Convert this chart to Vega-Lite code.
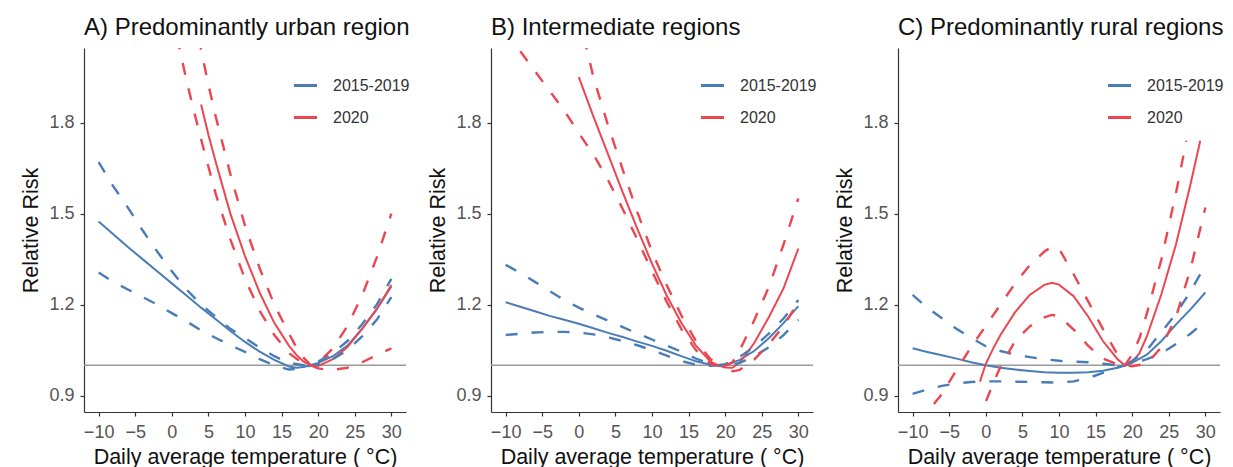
{
  "$schema": "https://vega.github.io/schema/vega-lite/v6.json",
  "padding": {"left": 20, "top": 16, "right": 0, "bottom": 0},
  "background": "white",
  "config": {
    "font": "Liberation Sans",
    "view": {"stroke": null},
    "axis": {"grid": false, "domainColor": "#333333", "domainWidth": 1.2, "tickColor": "#333333", "tickWidth": 1.2, "tickSize": 4, "labelFontSize": 18, "labelColor": "#555555", "titleFontSize": 21.5, "titleFontWeight": "normal", "titleColor": "#111111"},
    "title": {"anchor": "start", "frame": "group", "fontSize": 24, "fontWeight": "normal", "color": "#111111", "baseline": "alphabetic", "offset": 8},
    "legend": {"orient": "none", "legendX": 208, "legendY": 24, "symbolType": "stroke", "symbolSize": 530, "symbolStrokeWidth": 3, "labelFontSize": 16, "labelColor": "#333333", "labelOffset": 14, "rowPadding": 10, "padding": 0, "title": null}
  },
  "datasets": {
    "curves": [
      {"p":"A","g":"2015-2019","k":"fit","t":-10,"rr":1.474},{"p":"A","g":"2015-2019","k":"fit","t":-8,"rr":1.432},{"p":"A","g":"2015-2019","k":"fit","t":-6,"rr":1.39},{"p":"A","g":"2015-2019","k":"fit","t":-4,"rr":1.35},{"p":"A","g":"2015-2019","k":"fit","t":-2,"rr":1.31},{"p":"A","g":"2015-2019","k":"fit","t":0,"rr":1.27},{"p":"A","g":"2015-2019","k":"fit","t":2,"rr":1.23},{"p":"A","g":"2015-2019","k":"fit","t":4,"rr":1.19},{"p":"A","g":"2015-2019","k":"fit","t":6,"rr":1.152},{"p":"A","g":"2015-2019","k":"fit","t":8,"rr":1.113},{"p":"A","g":"2015-2019","k":"fit","t":10,"rr":1.077},{"p":"A","g":"2015-2019","k":"fit","t":12,"rr":1.045},{"p":"A","g":"2015-2019","k":"fit","t":14,"rr":1.018},{"p":"A","g":"2015-2019","k":"fit","t":16,"rr":0.996},{"p":"A","g":"2015-2019","k":"fit","t":17,"rr":0.992},{"p":"A","g":"2015-2019","k":"fit","t":18,"rr":0.994},{"p":"A","g":"2015-2019","k":"fit","t":19,"rr":1.0},{"p":"A","g":"2015-2019","k":"fit","t":20,"rr":1.008},{"p":"A","g":"2015-2019","k":"fit","t":22,"rr":1.03},{"p":"A","g":"2015-2019","k":"fit","t":24,"rr":1.065},{"p":"A","g":"2015-2019","k":"fit","t":26,"rr":1.12},{"p":"A","g":"2015-2019","k":"fit","t":28,"rr":1.185},{"p":"A","g":"2015-2019","k":"fit","t":30,"rr":1.26},
      {"p":"A","g":"2015-2019","k":"hi","t":-10,"rr":1.67},{"p":"A","g":"2015-2019","k":"hi","t":-8,"rr":1.59},{"p":"A","g":"2015-2019","k":"hi","t":-6,"rr":1.52},{"p":"A","g":"2015-2019","k":"hi","t":-4,"rr":1.445},{"p":"A","g":"2015-2019","k":"hi","t":-2,"rr":1.375},{"p":"A","g":"2015-2019","k":"hi","t":0,"rr":1.31},{"p":"A","g":"2015-2019","k":"hi","t":2,"rr":1.25},{"p":"A","g":"2015-2019","k":"hi","t":4,"rr":1.2},{"p":"A","g":"2015-2019","k":"hi","t":6,"rr":1.16},{"p":"A","g":"2015-2019","k":"hi","t":8,"rr":1.12},{"p":"A","g":"2015-2019","k":"hi","t":10,"rr":1.09},{"p":"A","g":"2015-2019","k":"hi","t":12,"rr":1.058},{"p":"A","g":"2015-2019","k":"hi","t":14,"rr":1.03},{"p":"A","g":"2015-2019","k":"hi","t":16,"rr":1.008},{"p":"A","g":"2015-2019","k":"hi","t":18,"rr":1.0},{"p":"A","g":"2015-2019","k":"hi","t":19,"rr":1.0},{"p":"A","g":"2015-2019","k":"hi","t":20,"rr":1.012},{"p":"A","g":"2015-2019","k":"hi","t":22,"rr":1.04},{"p":"A","g":"2015-2019","k":"hi","t":24,"rr":1.08},{"p":"A","g":"2015-2019","k":"hi","t":26,"rr":1.135},{"p":"A","g":"2015-2019","k":"hi","t":28,"rr":1.2},{"p":"A","g":"2015-2019","k":"hi","t":30,"rr":1.285},
      {"p":"A","g":"2015-2019","k":"lo","t":-10,"rr":1.306},{"p":"A","g":"2015-2019","k":"lo","t":-8,"rr":1.275},{"p":"A","g":"2015-2019","k":"lo","t":-6,"rr":1.25},{"p":"A","g":"2015-2019","k":"lo","t":-4,"rr":1.225},{"p":"A","g":"2015-2019","k":"lo","t":-2,"rr":1.2},{"p":"A","g":"2015-2019","k":"lo","t":0,"rr":1.172},{"p":"A","g":"2015-2019","k":"lo","t":2,"rr":1.145},{"p":"A","g":"2015-2019","k":"lo","t":4,"rr":1.115},{"p":"A","g":"2015-2019","k":"lo","t":6,"rr":1.09},{"p":"A","g":"2015-2019","k":"lo","t":8,"rr":1.066},{"p":"A","g":"2015-2019","k":"lo","t":10,"rr":1.044},{"p":"A","g":"2015-2019","k":"lo","t":12,"rr":1.02},{"p":"A","g":"2015-2019","k":"lo","t":14,"rr":1.0},{"p":"A","g":"2015-2019","k":"lo","t":16,"rr":0.986},{"p":"A","g":"2015-2019","k":"lo","t":18,"rr":0.99},{"p":"A","g":"2015-2019","k":"lo","t":19,"rr":1.0},{"p":"A","g":"2015-2019","k":"lo","t":20,"rr":1.003},{"p":"A","g":"2015-2019","k":"lo","t":22,"rr":1.02},{"p":"A","g":"2015-2019","k":"lo","t":24,"rr":1.05},{"p":"A","g":"2015-2019","k":"lo","t":26,"rr":1.095},{"p":"A","g":"2015-2019","k":"lo","t":28,"rr":1.15},{"p":"A","g":"2015-2019","k":"lo","t":30,"rr":1.225},
      {"p":"A","g":"2020","k":"fit","t":4,"rr":1.86},{"p":"A","g":"2020","k":"fit","t":5,"rr":1.76},{"p":"A","g":"2020","k":"fit","t":6,"rr":1.67},{"p":"A","g":"2020","k":"fit","t":8,"rr":1.5},{"p":"A","g":"2020","k":"fit","t":10,"rr":1.36},{"p":"A","g":"2020","k":"fit","t":12,"rr":1.24},{"p":"A","g":"2020","k":"fit","t":14,"rr":1.14},{"p":"A","g":"2020","k":"fit","t":16,"rr":1.065},{"p":"A","g":"2020","k":"fit","t":17,"rr":1.035},{"p":"A","g":"2020","k":"fit","t":18,"rr":1.012},{"p":"A","g":"2020","k":"fit","t":19,"rr":1.0},{"p":"A","g":"2020","k":"fit","t":20,"rr":0.998},{"p":"A","g":"2020","k":"fit","t":22,"rr":1.02},{"p":"A","g":"2020","k":"fit","t":24,"rr":1.06},{"p":"A","g":"2020","k":"fit","t":26,"rr":1.12},{"p":"A","g":"2020","k":"fit","t":28,"rr":1.185},{"p":"A","g":"2020","k":"fit","t":30,"rr":1.265},
      {"p":"A","g":"2020","k":"hi","t":3.7,"rr":2.08},{"p":"A","g":"2020","k":"hi","t":4,"rr":2.04},{"p":"A","g":"2020","k":"hi","t":5,"rr":1.925},{"p":"A","g":"2020","k":"hi","t":6,"rr":1.82},{"p":"A","g":"2020","k":"hi","t":8,"rr":1.63},{"p":"A","g":"2020","k":"hi","t":10,"rr":1.46},{"p":"A","g":"2020","k":"hi","t":12,"rr":1.32},{"p":"A","g":"2020","k":"hi","t":14,"rr":1.2},{"p":"A","g":"2020","k":"hi","t":16,"rr":1.105},{"p":"A","g":"2020","k":"hi","t":17,"rr":1.06},{"p":"A","g":"2020","k":"hi","t":18,"rr":1.025},{"p":"A","g":"2020","k":"hi","t":19,"rr":1.0},{"p":"A","g":"2020","k":"hi","t":20,"rr":1.008},{"p":"A","g":"2020","k":"hi","t":22,"rr":1.055},{"p":"A","g":"2020","k":"hi","t":24,"rr":1.13},{"p":"A","g":"2020","k":"hi","t":26,"rr":1.23},{"p":"A","g":"2020","k":"hi","t":28,"rr":1.355},{"p":"A","g":"2020","k":"hi","t":30,"rr":1.5},
      {"p":"A","g":"2020","k":"lo","t":0.7,"rr":2.08},{"p":"A","g":"2020","k":"lo","t":1,"rr":2.05},{"p":"A","g":"2020","k":"lo","t":2,"rr":1.94},{"p":"A","g":"2020","k":"lo","t":3,"rr":1.84},{"p":"A","g":"2020","k":"lo","t":4,"rr":1.745},{"p":"A","g":"2020","k":"lo","t":6,"rr":1.565},{"p":"A","g":"2020","k":"lo","t":8,"rr":1.415},{"p":"A","g":"2020","k":"lo","t":10,"rr":1.285},{"p":"A","g":"2020","k":"lo","t":12,"rr":1.18},{"p":"A","g":"2020","k":"lo","t":14,"rr":1.1},{"p":"A","g":"2020","k":"lo","t":16,"rr":1.04},{"p":"A","g":"2020","k":"lo","t":18,"rr":1.005},{"p":"A","g":"2020","k":"lo","t":19,"rr":1.0},{"p":"A","g":"2020","k":"lo","t":20,"rr":0.99},{"p":"A","g":"2020","k":"lo","t":21,"rr":0.986},{"p":"A","g":"2020","k":"lo","t":22,"rr":0.985},{"p":"A","g":"2020","k":"lo","t":24,"rr":0.992},{"p":"A","g":"2020","k":"lo","t":26,"rr":1.01},{"p":"A","g":"2020","k":"lo","t":28,"rr":1.033},{"p":"A","g":"2020","k":"lo","t":30,"rr":1.056},

      {"p":"B","g":"2015-2019","k":"fit","t":-10,"rr":1.208},{"p":"B","g":"2015-2019","k":"fit","t":-8,"rr":1.193},{"p":"B","g":"2015-2019","k":"fit","t":-6,"rr":1.178},{"p":"B","g":"2015-2019","k":"fit","t":-4,"rr":1.163},{"p":"B","g":"2015-2019","k":"fit","t":-2,"rr":1.15},{"p":"B","g":"2015-2019","k":"fit","t":0,"rr":1.137},{"p":"B","g":"2015-2019","k":"fit","t":2,"rr":1.122},{"p":"B","g":"2015-2019","k":"fit","t":4,"rr":1.107},{"p":"B","g":"2015-2019","k":"fit","t":6,"rr":1.093},{"p":"B","g":"2015-2019","k":"fit","t":8,"rr":1.078},{"p":"B","g":"2015-2019","k":"fit","t":10,"rr":1.064},{"p":"B","g":"2015-2019","k":"fit","t":12,"rr":1.048},{"p":"B","g":"2015-2019","k":"fit","t":14,"rr":1.03},{"p":"B","g":"2015-2019","k":"fit","t":16,"rr":1.013},{"p":"B","g":"2015-2019","k":"fit","t":18,"rr":1.002},{"p":"B","g":"2015-2019","k":"fit","t":19,"rr":1.0},{"p":"B","g":"2015-2019","k":"fit","t":20,"rr":1.0},{"p":"B","g":"2015-2019","k":"fit","t":22,"rr":1.018},{"p":"B","g":"2015-2019","k":"fit","t":24,"rr":1.048},{"p":"B","g":"2015-2019","k":"fit","t":26,"rr":1.09},{"p":"B","g":"2015-2019","k":"fit","t":28,"rr":1.14},{"p":"B","g":"2015-2019","k":"fit","t":30,"rr":1.195},
      {"p":"B","g":"2015-2019","k":"hi","t":-10,"rr":1.331},{"p":"B","g":"2015-2019","k":"hi","t":-8,"rr":1.305},{"p":"B","g":"2015-2019","k":"hi","t":-6,"rr":1.275},{"p":"B","g":"2015-2019","k":"hi","t":-4,"rr":1.245},{"p":"B","g":"2015-2019","k":"hi","t":-2,"rr":1.215},{"p":"B","g":"2015-2019","k":"hi","t":0,"rr":1.19},{"p":"B","g":"2015-2019","k":"hi","t":2,"rr":1.168},{"p":"B","g":"2015-2019","k":"hi","t":4,"rr":1.147},{"p":"B","g":"2015-2019","k":"hi","t":6,"rr":1.126},{"p":"B","g":"2015-2019","k":"hi","t":8,"rr":1.105},{"p":"B","g":"2015-2019","k":"hi","t":10,"rr":1.085},{"p":"B","g":"2015-2019","k":"hi","t":12,"rr":1.065},{"p":"B","g":"2015-2019","k":"hi","t":14,"rr":1.045},{"p":"B","g":"2015-2019","k":"hi","t":16,"rr":1.022},{"p":"B","g":"2015-2019","k":"hi","t":18,"rr":1.005},{"p":"B","g":"2015-2019","k":"hi","t":19,"rr":1.0},{"p":"B","g":"2015-2019","k":"hi","t":20,"rr":1.004},{"p":"B","g":"2015-2019","k":"hi","t":22,"rr":1.028},{"p":"B","g":"2015-2019","k":"hi","t":24,"rr":1.062},{"p":"B","g":"2015-2019","k":"hi","t":26,"rr":1.105},{"p":"B","g":"2015-2019","k":"hi","t":28,"rr":1.155},{"p":"B","g":"2015-2019","k":"hi","t":30,"rr":1.215},
      {"p":"B","g":"2015-2019","k":"lo","t":-10,"rr":1.1},{"p":"B","g":"2015-2019","k":"lo","t":-8,"rr":1.104},{"p":"B","g":"2015-2019","k":"lo","t":-6,"rr":1.108},{"p":"B","g":"2015-2019","k":"lo","t":-4,"rr":1.11},{"p":"B","g":"2015-2019","k":"lo","t":-2,"rr":1.11},{"p":"B","g":"2015-2019","k":"lo","t":0,"rr":1.108},{"p":"B","g":"2015-2019","k":"lo","t":2,"rr":1.102},{"p":"B","g":"2015-2019","k":"lo","t":4,"rr":1.092},{"p":"B","g":"2015-2019","k":"lo","t":6,"rr":1.08},{"p":"B","g":"2015-2019","k":"lo","t":8,"rr":1.066},{"p":"B","g":"2015-2019","k":"lo","t":10,"rr":1.05},{"p":"B","g":"2015-2019","k":"lo","t":12,"rr":1.032},{"p":"B","g":"2015-2019","k":"lo","t":14,"rr":1.014},{"p":"B","g":"2015-2019","k":"lo","t":16,"rr":1.002},{"p":"B","g":"2015-2019","k":"lo","t":18,"rr":0.998},{"p":"B","g":"2015-2019","k":"lo","t":19,"rr":1.0},{"p":"B","g":"2015-2019","k":"lo","t":20,"rr":0.998},{"p":"B","g":"2015-2019","k":"lo","t":22,"rr":1.008},{"p":"B","g":"2015-2019","k":"lo","t":24,"rr":1.03},{"p":"B","g":"2015-2019","k":"lo","t":26,"rr":1.06},{"p":"B","g":"2015-2019","k":"lo","t":28,"rr":1.1},{"p":"B","g":"2015-2019","k":"lo","t":30,"rr":1.15},
      {"p":"B","g":"2020","k":"fit","t":0,"rr":1.95},{"p":"B","g":"2020","k":"fit","t":2,"rr":1.82},{"p":"B","g":"2020","k":"fit","t":4,"rr":1.695},{"p":"B","g":"2020","k":"fit","t":6,"rr":1.57},{"p":"B","g":"2020","k":"fit","t":8,"rr":1.45},{"p":"B","g":"2020","k":"fit","t":10,"rr":1.335},{"p":"B","g":"2020","k":"fit","t":12,"rr":1.23},{"p":"B","g":"2020","k":"fit","t":14,"rr":1.14},{"p":"B","g":"2020","k":"fit","t":16,"rr":1.065},{"p":"B","g":"2020","k":"fit","t":18,"rr":1.012},{"p":"B","g":"2020","k":"fit","t":19,"rr":1.0},{"p":"B","g":"2020","k":"fit","t":20,"rr":0.993},{"p":"B","g":"2020","k":"fit","t":21,"rr":0.992},{"p":"B","g":"2020","k":"fit","t":22,"rr":1.01},{"p":"B","g":"2020","k":"fit","t":23,"rr":1.04},{"p":"B","g":"2020","k":"fit","t":24,"rr":1.075},{"p":"B","g":"2020","k":"fit","t":26,"rr":1.16},{"p":"B","g":"2020","k":"fit","t":28,"rr":1.255},{"p":"B","g":"2020","k":"fit","t":30,"rr":1.385},
      {"p":"B","g":"2020","k":"hi","t":0.7,"rr":2.08},{"p":"B","g":"2020","k":"hi","t":1,"rr":2.05},{"p":"B","g":"2020","k":"hi","t":2,"rr":1.95},{"p":"B","g":"2020","k":"hi","t":4,"rr":1.79},{"p":"B","g":"2020","k":"hi","t":6,"rr":1.645},{"p":"B","g":"2020","k":"hi","t":8,"rr":1.505},{"p":"B","g":"2020","k":"hi","t":10,"rr":1.375},{"p":"B","g":"2020","k":"hi","t":12,"rr":1.265},{"p":"B","g":"2020","k":"hi","t":14,"rr":1.165},{"p":"B","g":"2020","k":"hi","t":16,"rr":1.08},{"p":"B","g":"2020","k":"hi","t":18,"rr":1.02},{"p":"B","g":"2020","k":"hi","t":19,"rr":1.0},{"p":"B","g":"2020","k":"hi","t":20,"rr":0.998},{"p":"B","g":"2020","k":"hi","t":21,"rr":1.01},{"p":"B","g":"2020","k":"hi","t":22,"rr":1.05},{"p":"B","g":"2020","k":"hi","t":24,"rr":1.15},{"p":"B","g":"2020","k":"hi","t":26,"rr":1.26},{"p":"B","g":"2020","k":"hi","t":28,"rr":1.4},{"p":"B","g":"2020","k":"hi","t":30,"rr":1.55},
      {"p":"B","g":"2020","k":"lo","t":-8,"rr":2.035},{"p":"B","g":"2020","k":"lo","t":-6,"rr":1.97},{"p":"B","g":"2020","k":"lo","t":-4,"rr":1.905},{"p":"B","g":"2020","k":"lo","t":-2,"rr":1.84},{"p":"B","g":"2020","k":"lo","t":0,"rr":1.765},{"p":"B","g":"2020","k":"lo","t":2,"rr":1.695},{"p":"B","g":"2020","k":"lo","t":4,"rr":1.61},{"p":"B","g":"2020","k":"lo","t":6,"rr":1.515},{"p":"B","g":"2020","k":"lo","t":8,"rr":1.415},{"p":"B","g":"2020","k":"lo","t":10,"rr":1.31},{"p":"B","g":"2020","k":"lo","t":12,"rr":1.21},{"p":"B","g":"2020","k":"lo","t":14,"rr":1.12},{"p":"B","g":"2020","k":"lo","t":16,"rr":1.05},{"p":"B","g":"2020","k":"lo","t":18,"rr":1.005},{"p":"B","g":"2020","k":"lo","t":19,"rr":1.0},{"p":"B","g":"2020","k":"lo","t":20,"rr":0.985},{"p":"B","g":"2020","k":"lo","t":21,"rr":0.98},{"p":"B","g":"2020","k":"lo","t":22,"rr":0.985},{"p":"B","g":"2020","k":"lo","t":24,"rr":1.02},{"p":"B","g":"2020","k":"lo","t":26,"rr":1.07},{"p":"B","g":"2020","k":"lo","t":28,"rr":1.13},{"p":"B","g":"2020","k":"lo","t":30,"rr":1.21},

      {"p":"C","g":"2015-2019","k":"fit","t":-10,"rr":1.056},{"p":"C","g":"2015-2019","k":"fit","t":-8,"rr":1.044},{"p":"C","g":"2015-2019","k":"fit","t":-6,"rr":1.033},{"p":"C","g":"2015-2019","k":"fit","t":-4,"rr":1.022},{"p":"C","g":"2015-2019","k":"fit","t":-2,"rr":1.01},{"p":"C","g":"2015-2019","k":"fit","t":0,"rr":1.0},{"p":"C","g":"2015-2019","k":"fit","t":2,"rr":0.992},{"p":"C","g":"2015-2019","k":"fit","t":4,"rr":0.986},{"p":"C","g":"2015-2019","k":"fit","t":6,"rr":0.981},{"p":"C","g":"2015-2019","k":"fit","t":8,"rr":0.977},{"p":"C","g":"2015-2019","k":"fit","t":10,"rr":0.975},{"p":"C","g":"2015-2019","k":"fit","t":12,"rr":0.975},{"p":"C","g":"2015-2019","k":"fit","t":14,"rr":0.977},{"p":"C","g":"2015-2019","k":"fit","t":16,"rr":0.982},{"p":"C","g":"2015-2019","k":"fit","t":18,"rr":0.992},{"p":"C","g":"2015-2019","k":"fit","t":19,"rr":1.0},{"p":"C","g":"2015-2019","k":"fit","t":20,"rr":1.008},{"p":"C","g":"2015-2019","k":"fit","t":22,"rr":1.035},{"p":"C","g":"2015-2019","k":"fit","t":24,"rr":1.08},{"p":"C","g":"2015-2019","k":"fit","t":26,"rr":1.135},{"p":"C","g":"2015-2019","k":"fit","t":28,"rr":1.185},{"p":"C","g":"2015-2019","k":"fit","t":30,"rr":1.24},
      {"p":"C","g":"2015-2019","k":"hi","t":-10,"rr":1.232},{"p":"C","g":"2015-2019","k":"hi","t":-8,"rr":1.19},{"p":"C","g":"2015-2019","k":"hi","t":-6,"rr":1.155},{"p":"C","g":"2015-2019","k":"hi","t":-4,"rr":1.12},{"p":"C","g":"2015-2019","k":"hi","t":-2,"rr":1.09},{"p":"C","g":"2015-2019","k":"hi","t":0,"rr":1.063},{"p":"C","g":"2015-2019","k":"hi","t":2,"rr":1.047},{"p":"C","g":"2015-2019","k":"hi","t":4,"rr":1.035},{"p":"C","g":"2015-2019","k":"hi","t":6,"rr":1.027},{"p":"C","g":"2015-2019","k":"hi","t":8,"rr":1.02},{"p":"C","g":"2015-2019","k":"hi","t":10,"rr":1.015},{"p":"C","g":"2015-2019","k":"hi","t":12,"rr":1.012},{"p":"C","g":"2015-2019","k":"hi","t":14,"rr":1.01},{"p":"C","g":"2015-2019","k":"hi","t":16,"rr":1.005},{"p":"C","g":"2015-2019","k":"hi","t":18,"rr":1.0},{"p":"C","g":"2015-2019","k":"hi","t":19,"rr":1.0},{"p":"C","g":"2015-2019","k":"hi","t":20,"rr":1.015},{"p":"C","g":"2015-2019","k":"hi","t":22,"rr":1.05},{"p":"C","g":"2015-2019","k":"hi","t":24,"rr":1.11},{"p":"C","g":"2015-2019","k":"hi","t":26,"rr":1.17},{"p":"C","g":"2015-2019","k":"hi","t":28,"rr":1.245},{"p":"C","g":"2015-2019","k":"hi","t":30,"rr":1.33},
      {"p":"C","g":"2015-2019","k":"lo","t":-10,"rr":0.906},{"p":"C","g":"2015-2019","k":"lo","t":-8,"rr":0.92},{"p":"C","g":"2015-2019","k":"lo","t":-6,"rr":0.932},{"p":"C","g":"2015-2019","k":"lo","t":-4,"rr":0.94},{"p":"C","g":"2015-2019","k":"lo","t":-2,"rr":0.945},{"p":"C","g":"2015-2019","k":"lo","t":0,"rr":0.947},{"p":"C","g":"2015-2019","k":"lo","t":2,"rr":0.947},{"p":"C","g":"2015-2019","k":"lo","t":4,"rr":0.946},{"p":"C","g":"2015-2019","k":"lo","t":6,"rr":0.945},{"p":"C","g":"2015-2019","k":"lo","t":8,"rr":0.944},{"p":"C","g":"2015-2019","k":"lo","t":10,"rr":0.943},{"p":"C","g":"2015-2019","k":"lo","t":12,"rr":0.947},{"p":"C","g":"2015-2019","k":"lo","t":14,"rr":0.958},{"p":"C","g":"2015-2019","k":"lo","t":16,"rr":0.975},{"p":"C","g":"2015-2019","k":"lo","t":18,"rr":0.993},{"p":"C","g":"2015-2019","k":"lo","t":19,"rr":1.0},{"p":"C","g":"2015-2019","k":"lo","t":20,"rr":1.005},{"p":"C","g":"2015-2019","k":"lo","t":22,"rr":1.02},{"p":"C","g":"2015-2019","k":"lo","t":24,"rr":1.04},{"p":"C","g":"2015-2019","k":"lo","t":26,"rr":1.07},{"p":"C","g":"2015-2019","k":"lo","t":28,"rr":1.105},{"p":"C","g":"2015-2019","k":"lo","t":30,"rr":1.145},
      {"p":"C","g":"2020","k":"fit","t":-0.8,"rr":0.946},{"p":"C","g":"2020","k":"fit","t":0,"rr":1.005},{"p":"C","g":"2020","k":"fit","t":1,"rr":1.055},{"p":"C","g":"2020","k":"fit","t":2,"rr":1.1},{"p":"C","g":"2020","k":"fit","t":4,"rr":1.175},{"p":"C","g":"2020","k":"fit","t":6,"rr":1.232},{"p":"C","g":"2020","k":"fit","t":8,"rr":1.265},{"p":"C","g":"2020","k":"fit","t":9,"rr":1.272},{"p":"C","g":"2020","k":"fit","t":10,"rr":1.266},{"p":"C","g":"2020","k":"fit","t":12,"rr":1.228},{"p":"C","g":"2020","k":"fit","t":14,"rr":1.16},{"p":"C","g":"2020","k":"fit","t":16,"rr":1.08},{"p":"C","g":"2020","k":"fit","t":18,"rr":1.02},{"p":"C","g":"2020","k":"fit","t":19,"rr":1.0},{"p":"C","g":"2020","k":"fit","t":20,"rr":1.01},{"p":"C","g":"2020","k":"fit","t":21,"rr":1.04},{"p":"C","g":"2020","k":"fit","t":22,"rr":1.095},{"p":"C","g":"2020","k":"fit","t":24,"rr":1.235},{"p":"C","g":"2020","k":"fit","t":26,"rr":1.4},{"p":"C","g":"2020","k":"fit","t":28,"rr":1.6},{"p":"C","g":"2020","k":"fit","t":29.3,"rr":1.74},
      {"p":"C","g":"2020","k":"hi","t":-9,"rr":0.8},{"p":"C","g":"2020","k":"hi","t":-8,"rr":0.845},{"p":"C","g":"2020","k":"hi","t":-6,"rr":0.905},{"p":"C","g":"2020","k":"hi","t":-4,"rr":0.985},{"p":"C","g":"2020","k":"hi","t":-2,"rr":1.06},{"p":"C","g":"2020","k":"hi","t":0,"rr":1.13},{"p":"C","g":"2020","k":"hi","t":2,"rr":1.2},{"p":"C","g":"2020","k":"hi","t":4,"rr":1.27},{"p":"C","g":"2020","k":"hi","t":6,"rr":1.33},{"p":"C","g":"2020","k":"hi","t":8,"rr":1.375},{"p":"C","g":"2020","k":"hi","t":9,"rr":1.39},{"p":"C","g":"2020","k":"hi","t":10,"rr":1.385},{"p":"C","g":"2020","k":"hi","t":12,"rr":1.3},{"p":"C","g":"2020","k":"hi","t":14,"rr":1.21},{"p":"C","g":"2020","k":"hi","t":16,"rr":1.12},{"p":"C","g":"2020","k":"hi","t":18,"rr":1.035},{"p":"C","g":"2020","k":"hi","t":19,"rr":1.0},{"p":"C","g":"2020","k":"hi","t":20,"rr":1.035},{"p":"C","g":"2020","k":"hi","t":21,"rr":1.09},{"p":"C","g":"2020","k":"hi","t":22,"rr":1.17},{"p":"C","g":"2020","k":"hi","t":24,"rr":1.35},{"p":"C","g":"2020","k":"hi","t":26,"rr":1.57},{"p":"C","g":"2020","k":"hi","t":27.4,"rr":1.74},
      {"p":"C","g":"2020","k":"lo","t":-1,"rr":0.8},{"p":"C","g":"2020","k":"lo","t":-0.4,"rr":0.845},{"p":"C","g":"2020","k":"lo","t":0,"rr":0.88},{"p":"C","g":"2020","k":"lo","t":1,"rr":0.94},{"p":"C","g":"2020","k":"lo","t":2,"rr":0.995},{"p":"C","g":"2020","k":"lo","t":4,"rr":1.08},{"p":"C","g":"2020","k":"lo","t":6,"rr":1.128},{"p":"C","g":"2020","k":"lo","t":8,"rr":1.158},{"p":"C","g":"2020","k":"lo","t":9,"rr":1.166},{"p":"C","g":"2020","k":"lo","t":10,"rr":1.162},{"p":"C","g":"2020","k":"lo","t":12,"rr":1.118},{"p":"C","g":"2020","k":"lo","t":14,"rr":1.064},{"p":"C","g":"2020","k":"lo","t":16,"rr":1.022},{"p":"C","g":"2020","k":"lo","t":18,"rr":1.003},{"p":"C","g":"2020","k":"lo","t":19,"rr":1.0},{"p":"C","g":"2020","k":"lo","t":20,"rr":0.997},{"p":"C","g":"2020","k":"lo","t":22,"rr":1.005},{"p":"C","g":"2020","k":"lo","t":24,"rr":1.06},{"p":"C","g":"2020","k":"lo","t":26,"rr":1.16},{"p":"C","g":"2020","k":"lo","t":28,"rr":1.32},{"p":"C","g":"2020","k":"lo","t":30,"rr":1.52}
    ],
    "reference": [{"ref": 1}]
  },
  "bounds": "flush",
  "spacing": 85,
  "resolve": {"scale": {"color": "independent", "x": "independent", "y": "independent"}, "legend": {"color": "independent"}},
  "hconcat": [
    {
      "width": 322, "height": 364,
      "title": {"text": "A) Predominantly urban region"},
      "layer": [
        {"data": {"name": "reference"}, "mark": {"type": "rule", "color": "#9a9a9a", "strokeWidth": 1.5},
         "encoding": {"y": {"field": "ref", "type": "quantitative", "scale": {"domain": [0.846, 2.046], "nice": false, "zero": false}, "axis": {"values": [0.9, 1.2, 1.5, 1.8], "format": ".1f", "labelPadding": 6, "titlePadding": 6, "title": "Relative Risk"}}}},
        {"data": {"name": "curves"}, "transform": [{"filter": "datum.p === 'A' && datum.k === 'fit'"}],
         "mark": {"type": "line", "clip": true, "strokeWidth": 2},
         "encoding": {
           "x": {"field": "t", "type": "quantitative", "scale": {"domain": [-12, 32], "nice": false, "zero": false}, "axis": {"values": [-10, -5, 0, 5, 10, 15, 20, 25, 30], "labelPadding": 7, "titlePadding": 5, "title": "Daily average temperature ( °C)"}},
           "y": {"field": "rr", "type": "quantitative", "scale": {"domain": [0.846, 2.046], "nice": false, "zero": false}},
           "color": {"field": "g", "type": "nominal", "scale": {"domain": ["2015-2019", "2020"], "range": ["#4a7db6", "#ec4651"]}}
         }},
        {"data": {"name": "curves"}, "transform": [{"filter": "datum.p === 'A' && datum.k !== 'fit'"}],
         "mark": {"type": "line", "clip": true, "strokeWidth": 2.4, "strokeDash": [12, 14]},
         "encoding": {
           "x": {"field": "t", "type": "quantitative"},
           "y": {"field": "rr", "type": "quantitative"},
           "color": {"field": "g", "type": "nominal"},
           "detail": {"field": "k", "type": "nominal"}
         }}
      ]
    },
    {
      "width": 322, "height": 364,
      "title": {"text": "B) Intermediate regions"},
      "layer": [
        {"data": {"name": "reference"}, "mark": {"type": "rule", "color": "#9a9a9a", "strokeWidth": 1.5},
         "encoding": {"y": {"field": "ref", "type": "quantitative", "scale": {"domain": [0.846, 2.046], "nice": false, "zero": false}, "axis": {"values": [0.9, 1.2, 1.5, 1.8], "format": ".1f", "labelPadding": 6, "titlePadding": 6, "title": "Relative Risk"}}}},
        {"data": {"name": "curves"}, "transform": [{"filter": "datum.p === 'B' && datum.k === 'fit'"}],
         "mark": {"type": "line", "clip": true, "strokeWidth": 2},
         "encoding": {
           "x": {"field": "t", "type": "quantitative", "scale": {"domain": [-12, 32], "nice": false, "zero": false}, "axis": {"values": [-10, -5, 0, 5, 10, 15, 20, 25, 30], "labelPadding": 7, "titlePadding": 5, "title": "Daily average temperature ( °C)"}},
           "y": {"field": "rr", "type": "quantitative", "scale": {"domain": [0.846, 2.046], "nice": false, "zero": false}},
           "color": {"field": "g", "type": "nominal", "scale": {"domain": ["2015-2019", "2020"], "range": ["#4a7db6", "#ec4651"]}}
         }},
        {"data": {"name": "curves"}, "transform": [{"filter": "datum.p === 'B' && datum.k !== 'fit'"}],
         "mark": {"type": "line", "clip": true, "strokeWidth": 2.4, "strokeDash": [12, 14]},
         "encoding": {
           "x": {"field": "t", "type": "quantitative"},
           "y": {"field": "rr", "type": "quantitative"},
           "color": {"field": "g", "type": "nominal"},
           "detail": {"field": "k", "type": "nominal"}
         }}
      ]
    },
    {
      "width": 322, "height": 364,
      "title": {"text": "C) Predominantly rural regions"},
      "layer": [
        {"data": {"name": "reference"}, "mark": {"type": "rule", "color": "#9a9a9a", "strokeWidth": 1.5},
         "encoding": {"y": {"field": "ref", "type": "quantitative", "scale": {"domain": [0.846, 2.046], "nice": false, "zero": false}, "axis": {"values": [0.9, 1.2, 1.5, 1.8], "format": ".1f", "labelPadding": 6, "titlePadding": 6, "title": "Relative Risk"}}}},
        {"data": {"name": "curves"}, "transform": [{"filter": "datum.p === 'C' && datum.k === 'fit'"}],
         "mark": {"type": "line", "clip": true, "strokeWidth": 2},
         "encoding": {
           "x": {"field": "t", "type": "quantitative", "scale": {"domain": [-12, 32], "nice": false, "zero": false}, "axis": {"values": [-10, -5, 0, 5, 10, 15, 20, 25, 30], "labelPadding": 7, "titlePadding": 5, "title": "Daily average temperature ( °C)"}},
           "y": {"field": "rr", "type": "quantitative", "scale": {"domain": [0.846, 2.046], "nice": false, "zero": false}},
           "color": {"field": "g", "type": "nominal", "scale": {"domain": ["2015-2019", "2020"], "range": ["#4a7db6", "#ec4651"]}}
         }},
        {"data": {"name": "curves"}, "transform": [{"filter": "datum.p === 'C' && datum.k !== 'fit'"}],
         "mark": {"type": "line", "clip": true, "strokeWidth": 2.4, "strokeDash": [12, 14]},
         "encoding": {
           "x": {"field": "t", "type": "quantitative"},
           "y": {"field": "rr", "type": "quantitative"},
           "color": {"field": "g", "type": "nominal"},
           "detail": {"field": "k", "type": "nominal"}
         }}
      ]
    }
  ]
}
